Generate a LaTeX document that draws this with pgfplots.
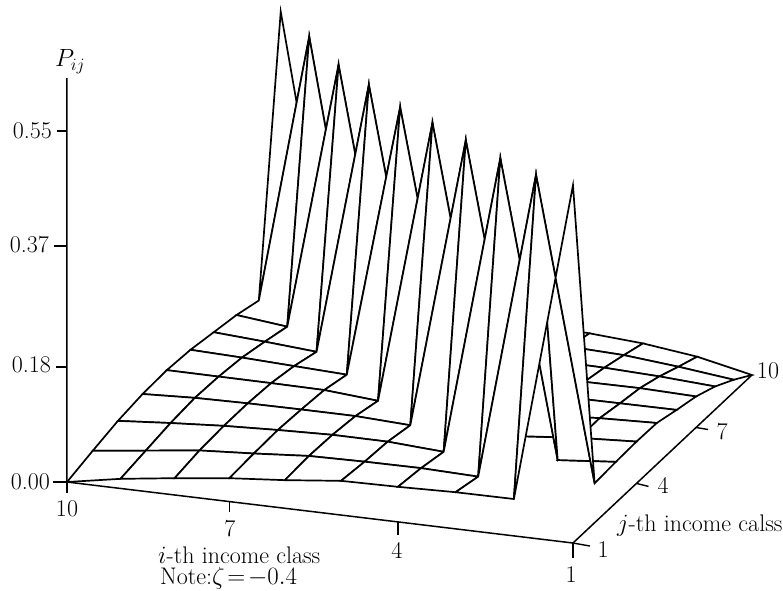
\documentclass[border=0pt]{standalone}
\usepackage{pgfplots}
\pgfplotsset{compat=1.18}
\begin{document}
\begin{tikzpicture}
\begin{axis}[
    x={(-56.22pt,6.78pt)}, y={(19.89pt,18.67pt)}, z={(0pt,638pt)},
    xmin=1, xmax=10, ymin=1, ymax=10, zmin=0, zmax=0.633,
    hide axis,
    clip=false,
]
% i j P, far corner first so that nearer cells cover what is behind them
\addplot3[surf, shader=faceted, faceted color=black, line width=1.7pt,
    colormap={allwhite}{color=(white) color=(white)},
    z buffer=none, mesh/rows=10]
    table[
        x expr={1+1.058*(\thisrow{i}-1)/(1+0.058*(\thisrow{i}-1)/9+0.1*(\thisrow{j}-1)/9)},
        y expr={1+1.1*(\thisrow{j}-1)/(1+0.058*(\thisrow{i}-1)/9+0.1*(\thisrow{j}-1)/9)},
        z expr={1.058*\thisrow{P}/(1+0.058*(\thisrow{i}-1)/9+0.1*(\thisrow{j}-1)/9)},
    ] {
i j P
10 10 0.542
9 10 0.060
8 10 0.062
7 10 0.058
6 10 0.053
5 10 0.048
4 10 0.042
3 10 0.034
2 10 0.021
1 10 0.000
10 9 0.073
9 9 0.527
8 9 0.056
7 9 0.058
6 9 0.056
5 9 0.052
4 9 0.047
3 9 0.042
2 9 0.032
1 9 0.020
10 8 0.075
9 8 0.064
8 8 0.508
7 8 0.054
6 8 0.056
5 8 0.054
4 8 0.052
3 8 0.049
2 8 0.044
1 8 0.037
10 7 0.073
9 7 0.066
8 7 0.058
7 7 0.504
6 7 0.053
5 7 0.055
4 7 0.055
3 7 0.054
2 7 0.053
1 7 0.049
10 6 0.071
9 6 0.067
8 6 0.062
7 6 0.057
6 6 0.497
5 6 0.052
4 6 0.056
3 6 0.058
2 6 0.057
1 6 0.056
10 5 0.065
9 5 0.0635
8 5 0.062
7 5 0.060
6 5 0.052
5 5 0.502
4 5 0.053
3 5 0.058
2 5 0.062
1 5 0.064
10 4 0.054
9 4 0.057
8 4 0.0575
7 4 0.057
6 4 0.056
5 4 0.051
4 4 0.505
3 4 0.053
2 4 0.060
1 4 0.064
10 3 0.039
9 3 0.045
8 3 0.050
7 3 0.053
6 3 0.055
5 3 0.054
4 3 0.048
3 3 0.508
2 3 0.055
1 3 0.062
10 2 0.020
9 2 0.030
8 2 0.040
7 2 0.045
6 2 0.051
5 2 0.052
4 2 0.052
3 2 0.049
2 2 0.514
1 2 0.059
10 1 0.000
9 1 0.015
8 1 0.026
7 1 0.036
6 1 0.043
5 1 0.052
4 1 0.053
3 1 0.055
2 1 0.055
1 1 0.530
    };
% axis lines, the book's ticks do not follow the box directions
\draw[line width=1.5pt] (axis cs:10,1,0.633) -- (axis cs:10,1,0) -- (axis cs:1,1,0) -- (axis cs:1,10,0);
\draw[line width=1.4pt] (axis cs:10,1,0) -- ++(0pt,-11pt);
\draw[line width=1.4pt] (axis cs:7.112,1,0) -- ++(0pt,-10pt);
\draw[line width=1.4pt] (axis cs:4.114,1,0) -- ++(0pt,-13pt);
\draw[line width=1.4pt] (axis cs:1,1,0) -- ++(0pt,-15pt);
\draw[line width=1.4pt] (axis cs:1,1,0) -- ++(17pt,-3pt);
\draw[line width=1.4pt] (axis cs:1,4.193,0) -- ++(12pt,-3pt);
\draw[line width=1.4pt] (axis cs:1,7.188,0) -- ++(12pt,-2pt);
\draw[line width=1.4pt] (axis cs:10,1,0) -- ++(-14pt,0pt);
\draw[line width=1.4pt] (axis cs:10,1,0.18) -- ++(-11pt,0pt);
\draw[line width=1.4pt] (axis cs:10,1,0.37) -- ++(-13pt,0pt);
\draw[line width=1.4pt] (axis cs:10,1,0.55) -- ++(-10pt,0pt);
\coordinate (A) at (axis cs:10,1,0);
\end{axis}
% labels, offsets in reference pixels from the corner at i=10
\tikzset{
    lab/.style={anchor=base west, inner sep=0pt, font=\fontsize{24}{28}\selectfont},
    num/.style={anchor=base, inner sep=0pt, font=\fontsize{24}{28}\selectfont},
    numr/.style={num, anchor=base east},
}
\node[num] at ([shift={(0pt,-34pt)}]A) {10};
\node[num] at ([shift={(163pt,-54pt)}]A) {7};
\node[num] at ([shift={(330pt,-76pt)}]A) {4};
\node[num] at ([shift={(504pt,-100pt)}]A) {1};
\node[num] at ([shift={(536pt,-75pt)}]A) {1};
\node[num] at ([shift={(596pt,-11pt)}]A) {4};
\node[num] at ([shift={(655pt,43pt)}]A) {7};
\node[num] at ([shift={(701pt,104pt)}]A) {10};
\node[numr] at ([shift={(-17pt,-7pt)}]A) {0.00};
\node[numr] at ([shift={(-16pt,110pt)}]A) {0.18};
\node[numr] at ([shift={(-18pt,230pt)}]A) {0.37};
\node[numr] at ([shift={(-15pt,344pt)}]A) {0.55};
\node[lab] at ([shift={(91pt,-81pt)}]A) {$i$-th income class};
\node[lab] at ([shift={(93pt,-102pt)}]A) {Note:$\zeta\!=\!-0.4$};
\node[lab] at ([shift={(550pt,-49pt)}]A) {$j$-th income calss};
\node[lab, font=\fontsize{25}{29}\selectfont] at ([shift={(-12pt,415pt)}]A) {$P_{ij}$};
\pgfresetboundingbox
\path (A) ++(-67pt,-108pt) rectangle ++(783pt,590pt);
\end{tikzpicture}
\end{document}
